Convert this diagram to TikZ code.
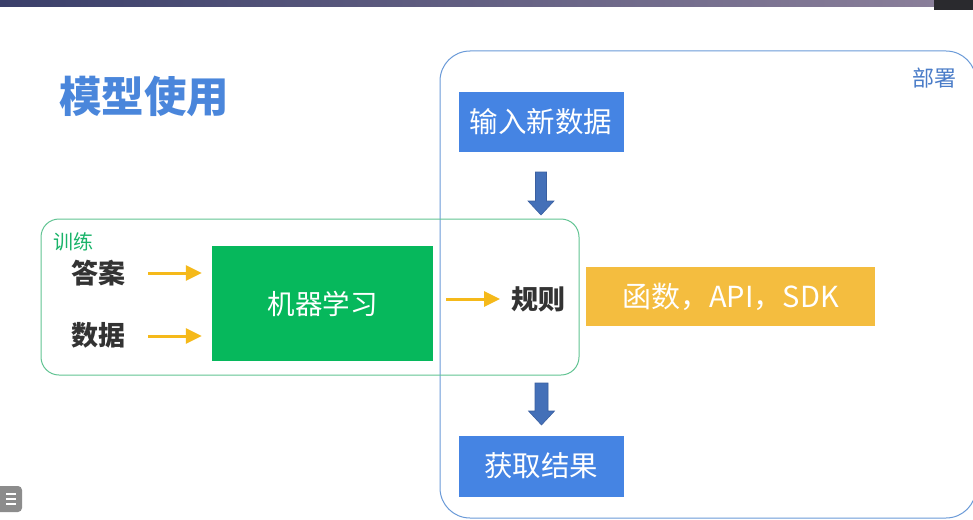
\documentclass[tikz,border=0pt]{standalone}
\usepackage{fontspec}
\setmainfont{Noto Sans CJK SC}
\usetikzlibrary{arrows.meta,calc}
\definecolor{boxblue}{HTML}{4584E3}
\definecolor{boxgreen}{HTML}{06B85C}
\definecolor{boxyellow}{HTML}{F4BD3F}
\definecolor{arryellow}{HTML}{F5B91A}
\definecolor{deployline}{HTML}{6A9AD8}
\definecolor{trainline}{HTML}{62C493}
\definecolor{titleblue}{HTML}{4A86DB}
\definecolor{labelblue}{HTML}{4A7CC8}
\definecolor{labelgreen}{HTML}{1AB46A}
\definecolor{blockarrow}{HTML}{4470B8}
\definecolor{blockedge}{HTML}{3A5FA0}
\definecolor{darktext}{HTML}{333333}
\definecolor{barleft}{HTML}{3A3F6A}
\definecolor{barright}{HTML}{8A7F9A}
\definecolor{bardark}{HTML}{2A2A2E}
\definecolor{icongrey}{HTML}{8C8C8C}
\begin{document}
\begin{tikzpicture}[x=1pt,y=-1pt,
  solidbox/.style={draw=none,inner sep=0pt,text=white,font=\fontsize{28.5}{31}\selectfont},
  plaintext/.style={inner sep=0pt,text=darktext,font=\bfseries\fontsize{27}{30}\selectfont},
  yarrow/.style={arryellow,line width=3pt,-{Triangle[length=16pt,width=15pt]}},
  blockarr/.style={fill=blockarrow,draw=blockedge,line width=0.6pt}]
\useasboundingbox (0,0) rectangle (973,519);
\fill[white] (0,0) rectangle (973,519);
% screen menu bar
\shade[left color=barleft,right color=barright] (0,0) rectangle (934,7);
\fill[bardark] (934,0) rectangle (973,10);
% bottom-left icon
\fill[icongrey,rounded corners=4pt] (-6,486) rectangle (22,512);
\foreach \yy in {494,499,504}{\fill[white] (6,\yy-1) rectangle (16,\yy+0.8);}
% title
\node[anchor=west,inner sep=0pt,text=titleblue,font=\bfseries\fontsize{42.5}{45}\selectfont] (title) at (59,96) {模型使用};
% deploy frame
\draw[deployline,line width=1pt,rounded corners=30pt] (440,51) rectangle (976,518);
\node[anchor=north east,inner sep=0pt,text=labelblue,font=\fontsize{22}{25}\selectfont] (deploy) at (957,68) {部署};
% training frame
\draw[trainline,line width=1pt,rounded corners=18pt] (41,219) rectangle (579,375);
\node[anchor=north west,inner sep=0pt,text=labelgreen,font=\fontsize{20}{23}\selectfont] (train) at (53,232) {训练};
% boxes
\node[solidbox,fill=boxblue,minimum width=165pt,minimum height=60pt] (input) at (541,122) {输入新数据};
\node[solidbox,fill=boxblue,minimum width=165pt,minimum height=61pt] (result) at (541,466) {获取结果};
\node[solidbox,fill=boxgreen,minimum width=221pt,minimum height=115pt,font=\fontsize{27.5}{30}\selectfont] (ml) at (322.5,303.5) {机器学习};
\node[solidbox,fill=boxyellow,minimum width=289pt,minimum height=59pt,font=\fontsize{29}{31}\selectfont] (api) at (730.5,296.5) {函数，API，SDK};
% texts
\node[plaintext,anchor=west] (answer) at (71,273) {答案};
\node[plaintext,anchor=west] (data) at (71,335) {数据};
\node[plaintext,anchor=west] (rule) at (511,299) {规则};
% yellow arrows
\coordinate (a1s) at (148,273);
\coordinate (a2s) at (148,336);
\coordinate (a3s) at (446,299);
\draw[yarrow] (a1s) -- ($(ml.west |- a1s)+(-10,0)$);
\draw[yarrow] (a2s) -- ($(ml.west |- a2s)+(-10,0)$);
\draw[yarrow] (a3s) -- ($(rule.west)+(-11,0)$);
% block arrows
\draw[blockarr] (535.5,172) -- (546.5,172) -- (546.5,201) -- (554,201) -- (541,215) -- (528,201) -- (535.5,201) -- cycle;
\draw[blockarr] (535,383) -- (548,383) -- (548,411) -- (554.5,411) -- (541.5,425) -- (528.5,411) -- (535,411) -- cycle;
\end{tikzpicture}
\end{document}
